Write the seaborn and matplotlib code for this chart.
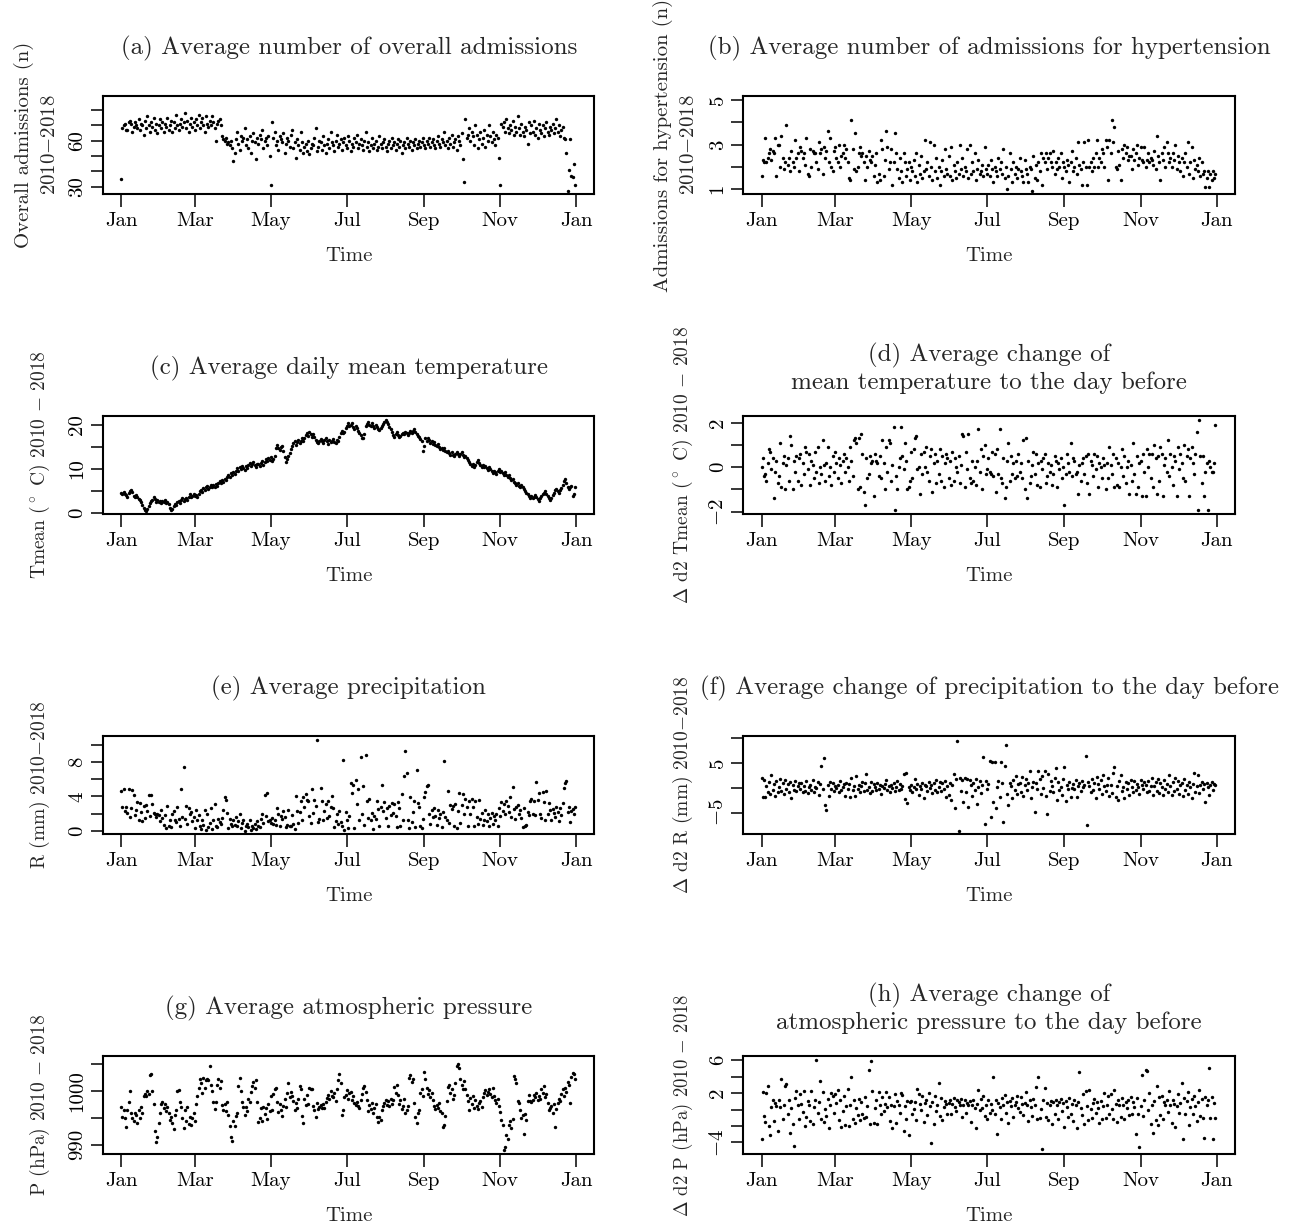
import numpy as np
import matplotlib.pyplot as plt
import seaborn as sns

sns.set_style("ticks")
plt.rcParams['font.family'] = ['cmr10', 'DejaVu Serif']
plt.rcParams['mathtext.fontset'] = 'cm'
plt.rcParams['axes.unicode_minus'] = False
plt.rcParams['axes.formatter.use_mathtext'] = True

# x axis: day of year (0 = 1 Jan)
month_ticks = [0, 59, 120, 181, 243, 304, 365]
month_labels = ["Jan", "Mar", "May", "Jul", "Sep", "Nov", "Jan"]

# (a) overall admissions, daily average 2010-2018
admissions = [
    35, 68, 70, 71, 67, 67, 72, 73, 71, 66,
    69, 72, 70, 68, 74, 67, 71, 70, 64, 73,
    68, 76, 70, 66, 72, 69, 75, 67, 71, 65,
    70, 74, 68, 72, 66, 71, 69, 75, 67, 70,
    73, 66, 72, 68, 77, 70, 67, 71, 74, 69,
    72, 78, 68, 73, 66, 71, 75, 69, 72, 67,
    74, 70, 77, 68, 72, 75, 70, 66, 76, 71,
    69, 73, 70, 76, 72, 68, 60, 71, 73, 74,
    70, 63, 61, 60, 62, 58, 59, 57, 60, 55,
    47, 52, 61, 66, 58, 54, 63, 60, 62, 68,
    57, 61, 55, 63, 52, 60, 65, 59, 48, 62,
    58, 64, 61, 67, 55, 60, 62, 57, 63, 50,
    31, 72, 62, 66, 57, 60, 54, 63, 61, 59,
    65, 52, 58, 62, 60, 56, 64, 67, 55, 59,
    49, 61, 57, 54, 66, 59, 52, 56, 58, 53,
    60, 51, 55, 58, 57, 62, 68, 53, 56, 60,
    59, 54, 63, 57, 52, 58, 61, 55, 66, 59,
    57, 53, 60, 64, 56, 58, 61, 54, 59, 62,
    57, 55, 63, 60, 53, 58, 56, 62, 59, 64,
    55, 58, 61, 57, 54, 60, 66, 56, 59, 53,
    57, 62, 55, 58, 60, 54, 56, 63, 58, 55,
    59, 61, 56, 53, 58, 60, 55, 62, 57, 59,
    54, 58, 61, 56, 60, 52, 57, 59, 55, 62,
    58, 56, 60, 54, 59, 57, 61, 55, 58, 60,
    56, 59, 62, 57, 55, 60, 58, 62, 56, 59,
    61, 57, 55, 60, 63, 58, 56, 61, 59, 66,
    57, 60, 55, 62, 58, 64, 56, 59, 61, 54,
    63, 60, 57, 65, 48, 33, 74, 62, 64, 68,
    60, 66, 63, 57, 70, 64, 55, 61, 66, 58,
    62, 67, 56, 64, 60, 70, 63, 59, 66, 61,
    57, 64, 62, 49, 31, 71, 69, 72, 66, 74,
    68, 65, 70, 67, 73, 64, 69, 66, 76, 68,
    64, 71, 66, 63, 69, 67, 58, 72, 65, 70,
    66, 73, 64, 68, 62, 71, 67, 65, 70, 63,
    68, 72, 66, 64, 69, 67, 71, 65, 68, 74,
    66, 70, 63, 67, 69, 62, 61, 52, 27, 41,
    61, 37, 36, 45, 31,
]

# (b) admissions for hypertension
hypertension = [
    1.6, 2.3, 2.2, 3.3, 2.2, 2.4, 2.6, 2.8, 2.3, 2.7,
    2.6, 3.3, 1.6, 3.0, 3.0, 2.0, 3.4, 2.4, 1.9, 2.2,
    3.9, 2.1, 2.4, 1.8, 2.7, 2.2, 2.0, 3.2, 2.4, 2.6,
    1.8, 2.9, 2.7, 2.4, 2.6, 2.1, 3.3, 1.7, 1.6, 2.8,
    2.0, 2.7, 2.6, 2.6, 2.2, 1.9, 3.1, 2.6, 2.8, 1.7,
    2.9, 2.4, 2.7, 3.6, 2.2, 3.3, 2.0, 1.8, 2.7, 2.9,
    2.4, 2.2, 3.0, 2.0, 2.5, 2.6, 3.0, 2.4, 2.8, 2.2,
    1.5, 1.4, 4.1, 2.8, 1.9, 3.5, 1.8, 2.0, 2.6, 2.9,
    2.5, 2.6, 2.2, 1.4, 2.5, 2.0, 2.7, 2.3, 2.2, 2.5,
    1.6, 2.1, 2.6, 1.3, 1.7, 1.4, 3.2, 2.8, 1.6, 2.3,
    3.6, 2.9, 1.9, 2.2, 2.8, 1.2, 2.2, 3.5, 2.6, 1.9,
    1.5, 2.4, 1.8, 1.3, 2.6, 2.2, 1.6, 1.9, 2.2, 1.4,
    2.0, 1.8, 2.3, 1.6, 2.6, 1.3, 2.1, 1.7, 2.5, 1.5,
    1.8, 3.2, 1.9, 2.2, 1.6, 3.1, 2.0, 1.4, 3.0, 1.8,
    2.4, 1.5, 2.0, 1.2, 1.8, 2.3, 1.6, 2.8, 1.9, 1.7,
    2.5, 1.6, 2.9, 1.4, 2.1, 1.8, 1.5, 2.2, 1.7, 3.0,
    1.9, 2.4, 1.6, 2.0, 1.8, 2.8, 1.5, 3.0, 1.7, 2.2,
    1.8, 2.6, 1.4, 1.9, 2.3, 1.7, 1.8, 2.1, 1.6, 2.9,
    1.9, 1.7, 2.1, 1.6, 2.3, 1.9, 1.3, 2.0, 1.8, 1.6,
    2.4, 1.9, 2.2, 1.7, 2.8, 1.5, 2.0, 1.0, 1.6, 2.6,
    1.9, 1.3, 2.2, 1.7, 2.0, 1.5, 1.9, 2.4, 1.8, 1.6,
    1.3, 2.3, 1.9, 1.7, 1.3, 2.0, 1.9, 0.9, 2.5, 1.5,
    2.1, 1.4, 2.2, 1.8, 2.6, 1.2, 2.4, 2.2, 2.6, 1.9,
    2.4, 2.6, 2.2, 2.0, 2.7, 1.7, 2.2, 1.9, 2.4, 2.0,
    2.6, 1.5, 2.2, 2.0, 1.8, 2.3, 2.1, 1.3, 2.2, 2.7,
    1.8, 2.0, 2.4, 1.7, 3.1, 2.1, 1.9, 1.2, 2.2, 3.1,
    2.0, 1.2, 3.2, 2.0, 2.2, 1.8, 2.4, 2.0, 2.6, 3.2,
    2.0, 2.4, 2.2, 2.8, 2.6, 2.0, 3.2, 2.9, 1.4, 3.2,
    2.6, 4.1, 3.1, 3.8, 2.0, 1.9, 2.7, 2.1, 1.4, 2.8,
    2.4, 3.0, 2.6, 2.9, 2.3, 2.5, 2.5, 1.9, 2.8, 2.3,
    2.6, 3.0, 2.1, 2.4, 2.9, 2.3, 2.2, 2.9, 2.0, 2.3,
    2.6, 2.2, 2.4, 2.3, 2.1, 2.7, 1.9, 3.4, 2.5, 2.2,
    1.4, 2.6, 2.3, 2.9, 2.0, 3.1, 2.6, 2.2, 2.4, 2.0,
    2.6, 2.3, 3.0, 1.9, 2.5, 2.2, 1.8, 2.4, 1.6, 2.2,
    2.6, 2.0, 3.1, 1.7, 2.2, 2.9, 1.5, 2.3, 1.9, 2.1,
    1.8, 2.4, 1.6, 2.2, 1.7, 1.8, 1.1, 1.5, 1.8, 1.1,
    1.7, 1.4, 1.8, 1.5, 1.7,
]

# (c) daily mean temperature (deg C)
tmean = [
    4.6, 4.3, 4.8, 4.2, 4.0, 3.6, 4.5, 5.0, 5.2, 4.7,
    3.9, 3.7, 4.1, 3.6, 3.2, 3.0, 2.4, 1.8, 1.1, 0.6,
    0.5, 0.9, 1.6, 2.2, 2.7, 3.0, 3.6, 3.2, 2.6, 2.9,
    2.4, 2.7, 2.2, 2.8, 2.5, 2.9, 2.3, 2.6, 2.1, 1.1,
    0.7, 0.9, 1.6, 2.1, 1.9, 2.5, 2.8, 2.3, 3.0, 3.3,
    2.7, 3.1, 3.4, 3.0, 3.7, 4.2, 3.6, 3.9, 4.4, 3.8,
    4.1, 3.7, 4.4, 4.9, 5.3, 4.8, 5.6, 5.2, 5.8, 6.1,
    5.5, 6.0, 6.4, 5.9, 6.3, 6.0, 6.6, 6.2, 6.8, 7.3,
    6.9, 7.5, 7.0, 7.7, 7.4, 8.1, 8.6, 8.2, 9.0, 8.5,
    9.3, 8.8, 9.6, 10.1, 9.5, 10.4, 9.9, 10.6, 10.2, 9.7,
    10.6, 10.2, 10.8, 11.3, 10.7, 11.0, 11.5, 10.9, 10.4, 11.2,
    11.0, 10.6, 11.4, 11.8, 10.9, 11.6, 12.2, 11.7, 12.4, 12.0,
    12.6, 11.8, 12.3, 13.0, 14.6, 15.3, 14.8, 14.2, 14.9, 15.1,
    14.0, 12.6, 11.5, 12.2, 12.9, 13.6, 14.4, 15.2, 15.8, 16.3,
    15.5, 16.0, 16.6, 15.8, 16.4, 16.9, 16.2, 17.0, 17.6, 18.2,
    17.5, 18.4, 17.9, 17.3, 17.8, 17.1, 16.6, 16.1, 15.8, 16.4,
    16.8, 16.2, 15.9, 16.5, 16.9, 16.3, 15.7, 16.6, 16.0, 16.4,
    16.8, 16.1, 15.8, 16.5, 16.2, 17.2, 18.1, 18.5, 18.0, 18.4,
    19.2, 19.8, 20.3, 19.6, 19.9, 20.4, 19.5, 19.1, 19.8, 19.3,
    18.6, 18.1, 17.6, 17.0, 16.9, 17.8, 19.6, 20.2, 20.5, 20.0,
    19.7, 20.3, 19.6, 19.2, 19.9, 19.4, 19.0, 18.7, 19.3, 19.8,
    20.2, 20.6, 21.0, 20.7, 20.1, 19.5, 18.9, 18.4, 17.7, 17.2,
    17.8, 18.3, 17.6, 17.1, 17.5, 17.9, 18.2, 17.8, 18.4, 18.0,
    17.7, 18.2, 18.6, 18.1, 18.5, 18.9, 18.3, 17.8, 17.5, 17.2,
    16.8, 16.3, 14.1, 15.2, 16.9, 16.2, 17.0, 16.5, 15.8, 16.3,
    15.7, 16.0, 15.4, 15.1, 15.6, 14.9, 14.5, 14.8, 14.2, 14.6,
    14.0, 13.7, 14.1, 13.5, 13.2, 13.8, 13.1, 12.9, 13.4, 13.7,
    13.3, 12.8, 13.4, 13.9, 13.1, 12.7, 12.9, 12.4, 12.0, 11.6,
    11.2, 10.7, 11.1, 10.5, 10.9, 11.5, 12.0, 11.3, 10.8, 10.4,
    10.9, 10.3, 10.7, 10.1, 9.8, 10.3, 9.9, 9.4, 9.0, 9.6,
    9.3, 8.8, 9.5, 10.0, 9.2, 9.6, 9.1, 8.7, 9.2, 8.5,
    8.2, 8.6, 7.9, 7.5, 7.8, 7.1, 6.8, 6.4, 6.9, 6.2,
    5.9, 6.3, 5.8, 5.4, 5.0, 4.6, 4.2, 3.8, 3.5, 3.9,
    3.4, 3.7, 4.1, 3.6, 3.2, 2.7, 3.3, 3.8, 4.2, 4.6,
    4.9, 4.4, 3.9, 3.5, 3.0, 3.4, 4.0, 4.5, 5.1, 5.4,
    5.0, 4.6, 5.3, 5.7, 6.4, 7.2, 7.8, 6.9, 5.9, 5.4,
    5.8, 6.1, 3.8, 4.2, 5.9,
]

# (d) change of mean temperature to the day before
d_tmean = [
    0.0, 0.4, -0.4, -0.3, -0.6, 0.2, 0.8, 0.7, -0.1, 0.4,
    -1.4, -0.2, 0.3, -0.7, -0.4, 1.1, -0.9, 0.2, 0.5, -1.0,
    0.1, 0.4, -0.6, 1.4, 1.0, -1.0, 0.3, -0.2, 0.5, -0.6,
    0.4, 0.6, -0.8, 0.2, -0.3, 0.9, 0.7, -0.1, 0.6, -0.8,
    0.3, 0.1, -0.5, 0.7, -0.2, 0.9, -0.7, 0.0, -0.3, 1.2,
    0.1, -0.6, 0.2, 0.9, -0.4, 0.0, -0.8, 0.5, -0.2, 0.7,
    0.2, -0.5, 0.4, 0.1, -0.7, 0.3, 0.6, -0.2, 0.4, 0.0,
    -0.6, 0.9, 0.3, -0.4, 1.2, 1.3, 1.1, -1.0, 1.3, -0.9,
    1.5, 0.6, -1.1, -1.7, 0.4, -0.5, -0.3, 0.5, 0.2, 0.3,
    -1.3, 0.6, 0.3, 0.2, -0.4, 0.5, -0.5, 1.2, 0.2, -1.0,
    0.9, -0.2, 1.2, 1.1, -0.6, 0.1, 1.8, -1.9, -0.4, -1.0,
    0.0, 0.4, 1.8, 0.5, -0.1, 1.1, 0.3, -1.0, -0.9, -0.6,
    0.7, -0.5, 0.8, 1.3, 1.4, -0.1, 0.0, -1.2, 0.6, -0.3,
    0.7, 0.0, 0.9, -0.2, -0.6, 0.5, 0.8, -1.1, 0.2, 0.6,
    -0.7, 0.3, -0.3, 0.8, -0.6, 0.5, -0.9, 0.2, 0.6, 0.4,
    -0.5, 0.3, -0.8, 0.7, -0.6, 0.4, 0.0, -0.2, 0.5, -0.7,
    0.1, 1.5, 1.4, -0.9, 0.7, -0.1, 1.5, -0.5, -0.7, 0.3,
    -0.6, 0.0, -0.8, 0.3, 1.7, -0.2, 0.8, -1.0, 0.5, 1.0,
    -0.3, -0.1, 0.4, -0.2, -0.3, 0.7, -0.4, 0.6, -1.1, 0.8,
    -0.3, 1.7, -0.5, -0.7, 0.4, -1.4, -0.9, 0.3, 1.1, -0.6,
    0.5, -0.3, 0.2, -0.5, 0.3, -0.4, 0.6, -0.2, 0.2, -0.5,
    1.2, -1.0, 1.3, -1.4, 0.3, -0.7, -0.4, 0.1, 0.7, -0.3,
    0.6, -0.8, 0.2, -0.9, 0.3, -0.1, 0.4, 0.6, -0.7, -0.4,
    0.2, -0.2, 0.1, -0.8, -0.3, 0.5, 0.3, -0.9, 0.2, -0.1,
    0.4, -0.5, 0.0, -1.7, -0.3, 0.6, 0.2, -0.2, 1.1, -0.4,
    0.4, 0.3, -0.3, -0.2, -1.2, 0.1, -0.6, 0.2, 0.4, -0.3,
    0.5, -0.7, 0.6, -1.2, 0.3, 0.1, -0.4, 0.6, -0.1, 0.5,
    -0.9, 0.2, 0.0, -0.5, 0.4, 0.1, -1.0, 0.2, -0.5, 0.9,
    0.1, -0.3, 0.6, -0.9, 0.4, -0.8, 0.2, -0.9, 0.0, 0.8,
    -0.4, 0.5, -0.7, 0.0, 0.3, -1.2, 0.1, -0.6, 1.1, -0.3,
    -1.2, 0.5, -0.9, 0.2, 0.3, -1.3, 0.6, -0.2, -1.3, 0.8,
    0.0, 0.6, -0.5, 0.6, -0.9, 1.0, 0.4, -1.2, 0.5, -0.6,
    0.9, 0.6, -1.3, 0.1, 0.4, -0.2, 1.2, -0.4, 0.6, 0.0,
    -0.8, 0.5, 0.3, -1.3, 0.9, -0.1, 0.6, 0.2, -0.5, 1.0,
    -0.6, 0.5, 0.8, -1.3, 0.4, 0.9, 0.2, -0.3, 0.6, 1.6,
    -1.9, 2.1, 0.5, -0.7, 0.5, -1.3, -0.2, 0.2, -1.9, 0.3,
    0.0, -0.2, -0.2, 0.2, 1.9,
]

# (e) precipitation (mm)
precip = [
    4.6, 2.7, 4.8, 2.3, 2.8, 2.1, 4.9, 1.6, 2.6, 4.7,
    4.1, 1.8, 2.4, 3.3, 1.3, 3.2, 2.2, 1.1, 2.9, 1.5,
    3.0, 2.3, 4.2, 1.7, 4.1, 3.1, 2.1, 1.9, 1.6, 2.0,
    1.8, 1.1, 2.4, 1.5, 0.7, 1.8, 0.3, 2.9, 0.6, 1.3,
    0.4, 1.9, 2.3, 1.2, 1.0, 2.8, 1.4, 0.5, 4.9, 1.6,
    7.4, 1.4, 2.9, 0.8, 2.6, 1.9, 2.2, 1.1, 1.6, 0.3,
    2.4, 1.2, 1.8, 0.5, 0.2, 1.3, 0.7, 2.4, 0.1, 1.9,
    0.4, 0.9, 2.6, 0.2, 1.3, 3.1, 0.6, 0.4, 1.4, 1.0,
    0.8, 1.5, 2.4, 3.9, 3.6, 2.1, 0.3, 1.4, 0.8, 0.5,
    1.2, 0.7, 1.6, 0.6, 1.1, 1.9, 0.3, 0.9, 1.3, 0.0,
    0.6, 0.8, 0.4, 1.2, 0.1, 0.5, 0.3, 0.8, 0.2, 1.1,
    0.6, 0.4, 1.4, 2.0, 0.9, 4.2, 1.7, 4.4, 1.1, 1.3,
    0.9, 1.5, 0.8, 1.2, 0.7, 2.6, 1.9, 0.6, 1.7, 1.4,
    2.3, 1.6, 0.4, 0.7, 2.4, 0.6, 0.5, 1.8, 0.8, 0.2,
    4.0, 2.3, 0.9, 2.2, 3.4, 1.3, 3.9, 2.7, 4.3, 3.6,
    3.4, 1.7, 0.9, 4.9, 2.1, 3.6, 2.9, 10.5, 1.0, 1.4,
    5.0, 3.5, 1.2, 2.3, 3.1, 1.5, 3.5, 1.7, 2.8, 4.0,
    2.6, 0.4, 1.1, 2.0, 0.8, 2.3, 1.0, 0.6, 8.2, 0.1,
    2.2, 1.2, 0.3, 1.7, 5.6, 4.4, 5.3, 0.3, 5.9, 3.1,
    4.8, 1.2, 8.6, 1.9, 5.2, 0.7, 8.8, 3.5, 1.5, 3.7,
    1.2, 2.1, 0.2, 1.7, 1.4, 3.5, 2.5, 0.6, 2.8, 5.3,
    2.3, 3.3, 1.5, 2.6, 0.6, 2.9, 1.8, 3.2, 2.1, 3.1,
    1.7, 0.4, 3.3, 2.6, 0.5, 4.3, 1.2, 6.3, 9.3, 6.7,
    1.2, 0.3, 3.9, 1.0, 2.2, 3.4, 0.4, 7.0, 3.2, 2.7,
    0.5, 0.3, 1.4, 3.9, 4.5, 5.2, 5.3, 1.9, 0.8, 2.4,
    1.6, 2.6, 1.7, 0.7, 2.4, 1.5, 1.9, 0.4, 2.2, 8.1,
    1.6, 1.2, 4.6, 0.9, 3.0, 2.5, 2.9, 0.5, 3.1, 0.3,
    2.3, 4.4, 0.9, 3.0, 4.3, 1.9, 3.7, 2.8, 0.6, 3.4,
    1.9, 3.7, 2.8, 0.6, 3.4, 1.6, 0.8, 3.6, 1.4, 2.1,
    0.7, 1.3, 2.4, 1.1, 1.9, 0.6, 1.5, 2.1, 0.8, 1.7,
    1.3, 2.0, 0.6, 2.6, 1.7, 3.3, 2.3, 3.1, 1.9, 3.4,
    2.9, 2.2, 3.9, 1.6, 5.1, 2.5, 1.4, 2.7, 3.0, 2.0,
    2.4, 1.5, 0.4, 2.6, 0.5, 0.7, 2.2, 1.8, 3.5, 3.7,
    2.0, 3.4, 1.8, 5.7, 3.6, 4.4, 2.0, 1.5, 4.5, 3.3,
    1.2, 4.6, 2.0, 3.2, 2.4, 1.3, 2.5, 2.1, 1.6, 2.8,
    2.2, 1.1, 2.6, 1.8, 3.2, 5.0, 5.5, 5.8, 2.2, 2.7,
    1.0, 2.3, 2.5, 2.0, 2.7,
]

# (f) change of precipitation to the day before
d_precip = [
    1.9, -1.8, 1.6, -1.9, 0.4, -0.8, 1.2, -1.3, 2.6, -0.5,
    0.7, -1.6, 1.3, -0.9, 0.2, 1.8, -0.6, 0.9, -1.2, 1.5,
    -0.3, 0.8, -0.9, 1.1, -2.1, 0.5, -0.4, 1.4, -0.7, 0.3,
    0.9, -0.2, 1.0, -0.8, 0.4, -0.6, 1.3, -1.1, 0.1, 0.6,
    -0.4, 1.5, -0.9, 0.2, -0.1, 1.1, -1.4, 0.7, 4.3, -0.3,
    6.0, -3.5, -4.5, 0.6, -1.6, 1.2, -0.2, 0.9, -0.6, 0.3,
    -0.1, 0.5, -0.9, 1.4, -0.4, 0.2, 0.7, -1.7, 1.0, -0.3,
    0.8, -1.8, 1.9, -0.5, 0.4, -1.7, 2.4, -0.2, 0.6, -0.8,
    0.3, 1.1, -0.6, 0.9, 2.7, -0.4, 0.2, -1.1, 1.2, -0.6,
    0.7, 0.1, -0.5, 0.9, -0.3, 0.6, -1.3, 0.4, -0.1, 0.8,
    1.6, -0.4, 0.3, -0.8, 0.5, -0.1, 1.0, -0.6, 0.2, 1.4,
    -0.5, 0.7, -0.3, 0.4, 2.8, -2.3, 3.0, -3.1, 0.2, -0.4,
    0.6, -0.9, 0.1, 1.7, -0.3, 0.8, -1.5, 0.4, -0.2, 1.0,
    -2.0, 0.5, 0.3, -0.7, 1.2, -0.1, 0.6, -1.1, 0.9, -0.4,
    1.5, -0.8, 0.2, 1.2, -0.6, 1.0, -0.2, 1.3, -1.8, 0.4,
    -1.5, 0.9, -2.5, 0.6, 2.7, -4.0, 1.8, 9.4, -8.7, 2.0,
    -0.6, 1.5, -2.8, 1.9, -0.8, 1.7, -3.8, 1.6, 0.5, -1.6,
    1.0, -0.4, 1.7, -3.3, 0.2, 1.4, -1.1, 0.6, 6.1, -7.3,
    1.3, -0.2, 0.7, 5.3, -5.8, 5.1, -2.8, 5.2, -4.0, 0.1,
    1.4, -1.9, 5.2, 0.9, -6.8, 4.3, 8.5, -1.2, -3.4, 1.0,
    0.3, -2.0, 1.6, -0.5, 2.4, -1.3, 0.7, 1.0, -0.8, 2.1,
    -1.6, 0.5, 1.8, -0.4, 0.9, 3.3, -2.1, 0.2, 1.2, -4.8,
    1.0, -0.3, 3.4, 1.8, -1.2, 2.4, 0.0, 3.3, -1.6, -5.3,
    2.7, -0.7, 1.4, 0.3, -0.8, 2.0, 4.0, -2.5, 1.1, -0.4,
    0.2, -1.5, 1.7, 4.2, -2.7, 0.5, -0.2, 1.2, -1.9, 0.0,
    0.7, -0.3, 1.5, -1.8, 0.4, 0.9, -0.6, 1.3, 0.1, 0.5,
    6.3, -7.5, 1.1, 0.3, -0.9, 1.8, -0.5, 1.0, -2.1, 2.2,
    0.8, -0.2, 1.5, -1.3, 2.5, 0.3, -0.7, 0.5, 1.9, -1.6,
    0.6, -1.1, 2.9, 4.1, -1.8, 0.4, -2.4, 1.3, 2.5, -0.6,
    0.2, -2.1, 1.2, -0.3, 0.9, -1.4, 1.6, 0.1, -0.8, 1.3,
    -0.5, 0.8, 0.2, -1.2, 1.5, 0.5, -0.3, 1.1, 0.6, -0.9,
    1.4, -0.7, 0.3, 1.9, -1.5, 0.4, 1.2, -0.6, 1.7, -1.1,
    0.9, 0.1, -1.4, 1.6, -0.2, 0.8, -0.9, 2.5, 0.3, -1.5,
    1.2, -0.6, 2.0, -0.3, 1.4, -1.2, 0.5, 0.9, -1.7, 1.8,
    -0.4, 0.6, -1.3, 1.2, 0.2, -2.0, 0.8, 3.0, -0.9, 0.4,
    2.6, -1.1, 0.5, 1.2, -0.3, 0.7, -2.9, 0.9, 0.2, -1.5,
    0.6, 1.1, -0.4, 0.7, 0.6,
]

# (g) atmospheric pressure (hPa)
pressure = [
    997.0, 995.2, 996.4, 994.9, 993.4, 996.5, 998.0, 1000.0, 996.0, 995.0,
    994.5, 996.0, 995.5, 994.0, 996.5, 995.0, 997.0, 996.0,
    999.0, 999.5, 999.0, 1000.0, 999.5, 1003.0, 1003.2, 1000.0, 997.5,
    992.5, 990.6, 991.4, 994.0,
    996.0, 997.5, 998.0, 996.8, 997.6, 996.2, 997.0, 996.0,
    994.7, 995.2, 994.0, 993.0, 995.5, 996.5, 1000.0, 1000.1, 998.0, 997.0,
    995.0, 993.2, 996.5, 994.5, 997.0, 993.8, 995.2,
    993.6, 995.0, 996.0, 994.5, 997.5, 999.0,
    1000.5, 1002.2, 1001.5, 999.6, 1002.5, 1000.6, 1002.0,
    1002.2, 1002.0, 1004.6, 1001.2, 1000.0, 997.9, 996.7,
    998.0, 1001.2, 1002.3, 1000.6, 1001.8, 997.4,
    996.5, 997.5, 996.2, 998.0, 995.6, 993.5, 991.5, 990.8, 994.5,
    993.5, 995.4, 996.0, 1001.0, 1002.5, 1000.0,
    998.0, 997.0, 995.5, 997.0, 996.2, 998.6, 998.0,
    999.8, 1001.0, 1001.6, 1000.5, 1002.0,
    998.0, 994.2, 995.0, 996.8, 994.4, 997.0, 995.8,
    996.8, 994.8, 997.6, 996.3, 999.0, 996.5,
    999.4, 1000.4, 1000.5, 998.0, 996.1, 997.5, 996.5, 995.3, 997.2,
    998.5, 997.0, 999.6, 1001.4, 998.8, 999.9,
    999.0, 998.2, 996.4, 997.8, 996.8, 998.6,
    1001.0, 1000.4, 995.4, 994.0, 998.6, 997.4, 999.2, 997.6,
    1000.6, 1000.3, 1000.4, 997.3, 996.5, 995.2, 997.8, 996.7,
    997.1, 997.4, 996.9, 997.5, 996.8, 997.9,
    998.7, 999.2, 998.5, 1000.0, 999.1, 998.9, 999.6, 998.2, 1000.3,
    1002.0, 1003.1, 1001.4, 995.6, 996.4, 998.8,
    999.3, 1000.2, 998.5, 999.6, 999.9, 998.3, 999.1,
    997.8, 997.4, 998.0, 997.2, 996.8, 998.4, 999.4,
    1000.6, 1001.0, 999.8, 998.4,
    996.2, 997.4, 996.6, 997.8, 995.9, 996.9, 997.5, 995.2,
    994.3, 995.1, 994.7, 996.4, 997.2,
    997.8, 998.3, 997.4, 998.1, 997.3, 998.6, 997.6, 998.3,
    1000.8, 999.6, 1001.2, 999.2,
    997.6, 998.4, 996.7, 997.2, 998.6, 995.9, 996.4, 997.2,
    1002.5, 1003.0, 1001.6, 1002.2, 997.8,
    995.2, 994.1, 995.9, 996.5, 999.6, 1000.4, 999.0, 1003.5,
    1002.2, 1000.6, 999.4, 1000.2, 998.8, 999.6, 998.3,
    997.2, 996.6, 997.4, 996.8, 997.7, 996.2,
    995.9, 993.3, 993.6, 995.4, 998.2,
    1000.7, 1001.2, 999.6, 1000.4, 998.6, 999.2, 1001.4,
    1004.6, 1005.1, 1004.2,
    1002.3, 1001.2, 1000.4, 1001.8, 1000.3, 999.2,
    998.1, 996.4, 998.7, 997.6, 999.0, 996.8,
    998.4, 997.2, 996.6, 997.7, 998.2, 997.1, 998.8,
    999.6, 1000.1, 999.2, 999.8, 1000.4, 999.5, 998.8, 1000.6,
    999.1, 998.3, 997.8, 998.5, 997.3,
    996.1, 994.6, 993.6, 989.1, 989.6, 991.8, 991.1,
    993.6, 994.4, 993.2, 994.8, 1002.8, 1002.3, 1001.4,
    998.1, 997.8, 996.4, 994.9, 995.6, 992.1, 995.8, 994.6,
    998.1, 999.3, 998.2, 997.9, 998.4, 999.2,
    998.8, 999.6, 998.3, 999.1, 998.6, 1000.4, 999.7, 1000.9, 998.8, 999.4,
    997.8, 996.4, 996.8, 997.2, 995.9, 997.6, 993.3, 996.6,
    997.8, 998.6, 998.2, 999.4, 1000.3, 999.1, 1000.5, 999.8,
    1001.6, 1001.1, 997.7, 1002.6, 1003.4, 1003.1, 1002.2,
]

# (h) change of atmospheric pressure to the day before
d_pressure = [
    -3.6, 2.1, -0.8, -1.5, 2.0, 2.8, -2.0, -3.1, 0.3, 1.2,
    -1.4, 0.8, 0.4, -2.6, 1.1, 0.3, 3.7, -1.2, 0.5, 2.8,
    3.1, -0.6, 1.2, -2.9, 0.2, -1.7, -4.4, 1.4, 2.3, 0.6,
    -1.1, 1.9, 0.7, -0.3, 2.2, -2.0, -0.9, 1.0, 0.5, -1.4,
    2.2, -1.8, 0.3, 1.1, 6.0, -0.4, 0.9, 3.5, -1.1, 2.1,
    -1.5, 0.1, -0.8, 1.3, -2.3, 0.6, 2.0, 1.6, -0.4, 1.9,
    0.8, 2.4, -1.3, 1.2, -2.1, -0.2, 1.7, -1.9, 0.4, 2.5,
    -2.0, 0.5, 4.0, -1.1, 1.1, -1.6, 0.2, -0.7, 1.3, -1.3,
    0.9, -0.5, -1.0, 1.5, -0.9, 0.4, 4.8, -1.7, 5.9, 2.2,
    -1.6, 0.2, 1.2, -1.8, 2.1, 0.6, -0.6, 1.5, -0.2, 0.7,
    2.1, 0.3, 1.5, -1.4, 0.6, -2.3, 0.4, 1.9, -1.6, 1.0,
    0.5, -0.4, 2.0, 1.8, -2.6, 0.4, -1.2, 1.0, -3.1, 0.9,
    1.0, -0.5, 0.1, 0.9, -1.3, 2.5, 1.9, 0.7, -0.1, 1.6,
    -1.5, 0.8, 1.2, -0.7, 2.0, 0.4, -4.1, 0.9, -1.7, 1.6,
    -0.2, 0.5, 3.2, -0.8, 1.4, -1.3, 0.3, 1.0, 0.7, -0.5,
    0.8, 1.1, -0.6, 0.7, 1.4, 0.3, -0.2, 1.2, 0.9, 0.6,
    1.3, -0.9, 0.5, 1.2, -0.4, 0.8, 0.6, 1.0, -1.5, 0.5,
    1.1, 0.2, -2.2, 0.7, 2.4, -0.1, 1.3, 0.2, 1.7, -0.8,
    0.5, -1.1, 1.1, -0.4, 0.7, 0.0, 3.9, -0.5, 1.1, -3.0,
    0.8, 0.3, -1.2, 1.4, 0.5, 1.8, -0.4, 0.9, -1.6, 1.0,
    0.4, 1.4, -0.9, 0.6, 0.9, 1.6, 0.2, -0.3, 1.5, 0.7,
    -0.7, 0.8, 2.1, 0.5, -1.4, 1.2, 0.3, -0.8, 1.3, 0.6,
    2.7, -1.2, 3.9, -1.0, 0.1, -4.8, 1.2, 2.6, -0.9, 0.8,
    -1.3, 0.5, 1.0, -1.8, 0.9, -0.5, 1.1, 0.6, -1.1, 0.9,
    1.3, -0.2, 0.8, -2.1, 1.0, 0.3, -0.9, 1.4, -0.5, 0.7,
    -1.4, 1.2, 0.6, -2.2, 0.9, 4.6, 0.2, -0.7, 1.9, -1.8,
    2.3, 0.4, -1.3, 2.4, 0.1, -1.0, 0.8, 1.3, -0.4, 0.9,
    0.2, -1.6, 1.0, -1.2, 0.4, 2.0, -1.0, 0.6, 1.6, -0.6,
    1.9, 0.1, -1.2, 2.4, 0.7, -1.5, 1.2, 0.5, -0.9, 1.4,
    0.6, -1.1, 0.9, 0.2, 1.2, -0.7, 1.5, -0.6, 0.9, 0.3,
    -3.0, 1.4, -0.6, -4.6, 0.4, 4.2, -0.8, 1.2, 4.8, 4.7,
    -0.1, 2.0, -1.8, 0.5, -2.8, 1.0, -1.3, 2.9, -1.9, 1.5,
    -0.7, 1.6, -1.2, 0.9, 0.6, 1.2, -0.3, 2.2, 0.5, -1.6,
    1.1, 0.7, -2.1, 0.4, 1.9, -0.4, 0.8, 3.2, -3.6, 1.4,
    -0.6, 1.0, 2.1, -1.9, 0.3, 1.3, -0.5, 1.6, 0.4, -1.4,
    0.9, 2.4, -0.8, 1.3, -1.0, -3.5, 1.5, 0.6, 1.2, 5.0,
    -1.0, 1.5, -3.6, 0.8, -1.0,
]

# panel text, axis ranges and y ticks
panels = [
    dict(y=admissions, title="(a) Average number of overall admissions",
         ylabel="Overall admissions (n)\n2010$-$2018", ylab_x=-0.136, ylab_size=15,
         ylim=(25.2, 89.2), ticks=[30, 40, 50, 60, 70, 80],
         labels=["30", "", "", "60", "", ""]),
    dict(y=hypertension, title="(b) Average number of admissions for hypertension",
         ylabel="Admissions for hypertension (n)\n2010$-$2018", ylab_x=-0.139, ylab_size=15,
         ylim=(0.78, 5.18), ticks=[1, 2, 3, 4, 5],
         labels=["1", "", "3", "", "5"]),
    dict(y=tmean, title="(c) Average daily mean temperature",
         ylabel="Tmean $(^\\circ$ C) 2010 $-$ 2018", ylab_x=-0.128, ylab_size=14,
         ylim=(-0.22, 21.95), ticks=[0, 5, 10, 15, 20],
         labels=["0", "", "10", "", "20"]),
    dict(y=d_tmean, title="(d) Average change of\nmean temperature to the day before",
         ylabel="$\\Delta$ d2 Tmean $(^\\circ$ C) 2010 $-$ 2018", ylab_x=-0.123, ylab_size=14,
         ylim=(-2.1, 2.3), ticks=[-2, -1, 0, 1, 2],
         labels=["$-2$", "", "0", "", "2"]),
    dict(y=precip, title="(e) Average precipitation",
         ylabel="R (mm) 2010$-$2018", ylab_x=-0.128, ylab_size=14,
         ylim=(-0.38, 11.0), ticks=[0, 2, 4, 6, 8, 10],
         labels=["0", "", "4", "", "8", ""]),
    dict(y=d_precip, title="(f) Average change of precipitation to the day before",
         ylabel="$\\Delta$ d2 R (mm) 2010$-$2018", ylab_x=-0.123, ylab_size=14,
         ylim=(-9.3, 10.3), ticks=[-5, 0, 5, 10],
         labels=["$-5$", "", "5", ""]),
    dict(y=pressure, title="(g) Average atmospheric pressure",
         ylabel="P (hPa) 2010 $-$ 2018", ylab_x=-0.128, ylab_size=14,
         ylim=(988.3, 1006.5), ticks=[990, 995, 1000, 1005],
         labels=["990", "", "1000", ""]),
    dict(y=d_pressure, title="(h) Average change of\natmospheric pressure to the day before",
         ylabel="$\\Delta$ d2 P (hPa) 2010 $-$ 2018", ylab_x=-0.123, ylab_size=13.5,
         ylim=(-5.4, 6.5), ticks=[-4, -2, 0, 2, 4, 6],
         labels=["$-4$", "", "", "2", "", "6"]),
]

fig = plt.figure(figsize=(12.98, 12.25), dpi=100)

col_left = [103 / 1298, 743.3 / 1298]
row_bottom = [1 - 194 / 1225, 1 - 514 / 1225, 1 - 834 / 1225, 1 - 1154 / 1225]
box_w = 491.5 / 1298
box_h = 98 / 1225

for i, p in enumerate(panels):
    ax = fig.add_axes([col_left[i % 2], row_bottom[i // 2], box_w, box_h])
    days = np.arange(len(p["y"]))
    sns.scatterplot(x=days, y=p["y"], ax=ax, color="black", s=6,
                    marker="o", linewidth=0)

    ax.set_xlim(-14.6, 379.6)
    ax.set_ylim(*p["ylim"])
    ax.set_xticks(month_ticks)
    ax.set_xticklabels(month_labels)
    ax.set_yticks(p["ticks"])
    ax.set_yticklabels(p["labels"])
    for lab in ax.get_yticklabels():
        lab.set_rotation(90)
        lab.set_va("center")
    ax.tick_params(direction="out", length=9, width=1.1, labelsize=15,
                   color="black", labelcolor="black")
    ax.tick_params(axis="x", pad=4)
    ax.tick_params(axis="y", pad=3)
    for sp in ax.spines.values():
        sp.set_visible(True)
        sp.set_linewidth(1.5)
        sp.set_color("black")
    ax.set_xlabel("")
    ax.set_ylabel("")

    ax.text(0.5, 1 + 48 / 98, p["title"], transform=ax.transAxes,
            ha="center", va="center", fontsize=18, linespacing=1.2)
    ax.text(0.5, -62 / 98, "Time", transform=ax.transAxes,
            ha="center", va="center", fontsize=15)
    ax.text(p["ylab_x"], 0.5, p["ylabel"], transform=ax.transAxes,
            rotation=90, ha="center", va="center", multialignment="center",
            fontsize=p["ylab_size"], linespacing=1.5)

fig.savefig("out.png", dpi=100, facecolor="white")
